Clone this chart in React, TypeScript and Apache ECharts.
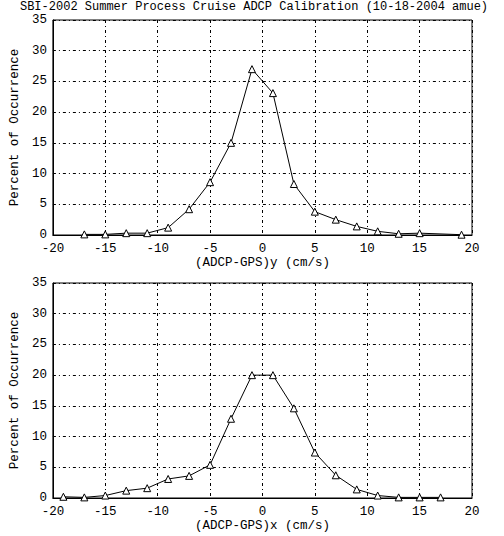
import React, { useEffect, useRef } from "react";
import * as echarts from "echarts";

const titleText = "SBI-2002 Summer Process Cruise ADCP Calibration (10-18-2004 amue)";
const yAxisName = "Percent of Occurrence";
const topXName = "(ADCP-GPS)y (cm/s)";
const bottomXName = "(ADCP-GPS)x (cm/s)";

const topX = [-17, -15, -13, -11, -9, -7, -5, -3, -1, 1, 3, 5, 7, 9, 11, 13, 15, 19];
const topY = [0.1, 0.1, 0.3, 0.3, 1.2, 4.2, 8.6, 15.0, 27.0, 23.1, 8.3, 3.8, 2.5, 1.4, 0.6, 0.2, 0.3, 0.05];

const bottomX = [-19, -17, -15, -13, -11, -9, -7, -5, -3, -1, 1, 3, 5, 7, 9, 11, 13, 15, 17];
const bottomY = [0.2, 0.1, 0.4, 1.2, 1.6, 3.1, 3.6, 5.4, 12.9, 20.0, 20.0, 14.6, 7.4, 3.7, 1.4, 0.4, 0.1, 0.1, 0.1];

const FONT = "Liberation Mono";

function pairs(xs: number[], ys: number[]) {
  return xs.map((x, i) => [x, ys[i]]);
}

export default function App() {
  const ref = useRef<HTMLDivElement>(null);
  useEffect(() => {
    if (!ref.current) return;
    const chart = echarts.init(ref.current, undefined, { renderer: "svg" });
    const gridLine = { show: true, lineStyle: { color: "#000", width: 1, type: [3, 3, 1, 3] as any } };
    const label = { color: "#000", fontFamily: FONT, fontSize: 12.5, lineHeight: 10 };
    const xAxisCommon = (gridIndex: number, name: string) => ({
      type: "value" as const,
      gridIndex,
      min: -20,
      max: 20,
      interval: 5,
      name,
      nameLocation: "middle" as const,
      nameGap: 22,
      nameTextStyle: { color: "#000", fontFamily: FONT, fontSize: 12.5, lineHeight: 12 },
      axisLine: { show: true, onZero: false, lineStyle: { color: "#000", width: 1 } },
      axisTick: { show: false },
      axisLabel: { ...label, margin: 9 },
      splitLine: gridLine,
    });
    const yAxisCommon = (gridIndex: number) => ({
      type: "value" as const,
      gridIndex,
      min: 0,
      max: 35,
      interval: 5,
      name: yAxisName,
      nameLocation: "middle" as const,
      nameRotate: 90,
      nameGap: 26,
      nameTextStyle: { color: "#000", fontFamily: FONT, fontSize: 12.5 },
      axisLine: { show: true, onZero: false, lineStyle: { color: "#000", width: 1 } },
      axisTick: { show: false },
      axisLabel: { ...label, margin: 6 },
      splitLine: gridLine,
    });
    const seriesCommon = {
      type: "line" as const,
      symbol: "triangle",
      symbolSize: 7,
      showAllSymbol: true,
      lineStyle: { color: "#000", width: 1 },
      itemStyle: { color: "#fff", borderColor: "#000", borderWidth: 1 },
      emphasis: { disabled: true },
    };
    chart.setOption({
      animation: false,
      backgroundColor: "#fff",
      title: {
        text: titleText,
        left: 254,
        textAlign: "center",
        top: 1,
        padding: 0,
        textStyle: { color: "#000", fontFamily: FONT, fontSize: 12, lineHeight: 12, fontWeight: "normal" },
      },
      grid: [
        { left: 40, top: 20, width: 432, height: 215, show: true, borderColor: "#000", borderWidth: 1, backgroundColor: "transparent" },
        { left: 40, top: 283, width: 432, height: 215, show: true, borderColor: "#000", borderWidth: 1, backgroundColor: "transparent" },
      ],
      xAxis: [xAxisCommon(0, topXName), xAxisCommon(1, bottomXName)],
      yAxis: [yAxisCommon(0), yAxisCommon(1)],
      series: [
        { ...seriesCommon, xAxisIndex: 0, yAxisIndex: 0, data: pairs(topX, topY) },
        { ...seriesCommon, xAxisIndex: 1, yAxisIndex: 1, data: pairs(bottomX, bottomY) },
      ],
    });
    return () => chart.dispose();
  }, []);
  return <div ref={ref} style={{ position: "fixed", left: 0, top: 0, width: 504, height: 536 }} />;
}
